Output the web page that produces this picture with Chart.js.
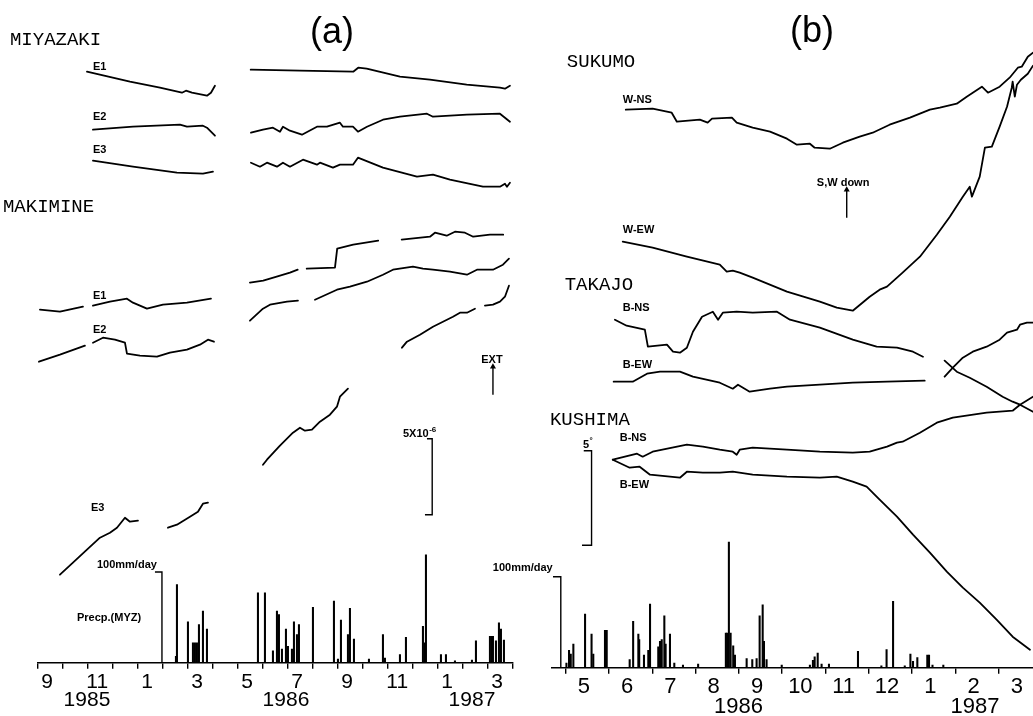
<!DOCTYPE html>
<html>
<head>
<meta charset="utf-8">
<title>Strain and tilt records, Miyazaki / Sukumo</title>
<script src="https://cdn.jsdelivr.net/npm/chart.js@4.4.1/dist/chart.umd.min.js"></script>
<style>
  html, body { margin: 0; padding: 0; background: #fff; }
  #wrap { position: relative; width: 1033px; height: 716px; overflow: hidden; background: #fff; }
  canvas { position: absolute; top: 0; }
  #chartA { left: 0; }
  #chartB { left: 480px; }
</style>
</head>
<body>
<div id="wrap">
  <canvas id="chartA" width="520" height="716"></canvas>
  <canvas id="chartB" width="553" height="716"></canvas>
</div>
<script>
// time axis: months counted from Jan 1985 (8 = Sep 1985, 16 = May 1986)
// level: relative trace level (the 5x10^-6 strain bar is 7.6 units), null = break in record

// ---- panel (a): extensometers ----
const miyazakiE1 = [[9.97,59.1],[11.69,58.1],[12.89,57.5],[13.77,57.0],[13.93,57.2],[14.17,57.0],[14.77,56.7],[14.93,57.0],[15.09,57.7],null,
  [16.52,59.3],[18.49,59.2],[20.62,59.1],[20.82,59.5],[21.16,59.4],[22.49,58.6],[23.69,58.3],[25.16,57.8],[26.49,57.5],[26.69,57.4],[26.89,57.7]];
const miyazakiE2 = [[10.21,53.3],[11.81,53.6],[13.69,53.8],[13.97,53.6],[14.61,53.7],[14.77,53.5],[15.09,52.7],null,
  [16.53,53.0],[17.01,53.3],[17.41,53.5],[17.69,53.1],[17.81,53.6],[18.09,53.2],[18.57,52.8],[19.17,53.6],[19.57,53.6],[20.09,54.0],[20.21,53.6],
  [20.61,53.6],[20.81,53.1],[21.17,53.6],[21.81,54.3],[22.49,54.6],[23.57,54.9],[23.81,54.6],[25.17,54.8],[26.49,54.9],[26.89,54.1]];
const miyazakiE3 = [[10.21,50.2],[11.81,49.6],[13.57,49.0],[14.61,48.9],[15.01,49.1],null,
  [16.53,50.0],[16.89,49.6],[17.17,50.0],[17.57,49.6],[17.81,50.0],[18.09,49.6],[18.61,50.3],[19.17,49.8],[19.29,50.0],[19.81,49.5],[20.09,49.8],
  [20.61,49.8],[20.81,50.5],[21.81,49.5],[23.17,48.6],[23.81,48.8],[24.49,48.3],[25.81,47.6],[26.49,47.6],[26.69,47.9],[26.77,47.6],[26.89,48.0]];
const makimineE1 = [[8.09,35.3],[8.89,35.1],[9.81,35.6],null,
  [10.21,35.7],[10.89,36.1],[11.57,36.4],[11.81,36.0],[12.37,35.4],[13.01,35.8],[13.97,36.0],[14.93,36.4],null,
  [16.49,38.0],[17.02,38.2],[17.56,38.6],[18.09,39.0],[18.40,39.3],null,
  [18.76,39.4],[19.89,39.5],[19.98,41.4],[20.62,41.8],[21.62,42.2],null,
  [22.56,42.3],[23.69,42.6],[23.89,43.0],[24.36,42.7],[24.69,43.1],[25.09,43.0],[25.42,42.6],[26.09,42.8],[26.62,42.8]];
const makimineE2 = [[8.05,30.1],[8.89,30.8],[9.89,31.7],null,
  [10.21,32.0],[10.61,32.5],[11.09,32.3],[11.49,32.0],[11.57,30.9],[12.09,30.7],[12.77,30.6],[13.29,31.0],[13.97,31.3],[14.49,31.8],[14.81,32.3],[15.05,32.1],null,
  [16.49,34.2],[17.01,35.4],[17.29,35.8],[17.97,36.1],[18.41,36.2],null,
  [19.09,36.3],[19.97,37.3],[20.49,37.6],[21.17,38.1],[21.81,38.8],[22.21,39.3],[23.01,39.6],[23.41,39.4],[23.81,39.3],[24.49,39.1],
  [25.17,38.8],[25.57,39.3],[26.21,39.3],[26.61,39.8],[26.85,40.4]];
const makimineE3 = [[8.89,8.8],[9.41,10.0],[9.97,11.3],[10.49,12.5],[10.89,13.0],[11.17,13.5],[11.49,14.5],[11.69,14.1],[12.01,14.2],null,
  [13.21,13.5],[13.57,13.8],[14.09,14.6],[14.41,15.1],[14.61,15.9],[14.81,16.0],null,
  [17.01,19.8],[17.17,20.3],[17.69,21.7],[18.21,23.0],[18.49,23.5],[18.69,23.2],[18.97,23.3],[19.29,24.1],[19.69,24.8],[19.97,25.6],[20.09,26.6],[20.41,27.4],null,
  [22.57,31.5],[22.77,32.1],[23.29,32.8],[23.81,33.6],[24.37,34.3],[24.61,34.6],[24.89,35.0],[25.17,35.0],[25.49,35.4],null,
  [25.89,35.7],[26.21,35.8],[26.49,36.1],[26.69,36.6],[26.85,37.7]];

// daily precipitation at Miyazaki (mm/day)
const rainTimeA = [13.53,13.57,14.01,14.21,14.29,14.37,14.45,14.61,14.77,16.81,17.09,17.41,17.57,17.65,17.77,17.93,18.01,18.17,18.25,18.37,18.45,
  19.01,19.85,20.01,20.13,20.41,20.49,20.65,21.25,21.81,21.89,22.49,22.73,23.41,23.49,23.53,24.13,24.33,24.69,25.37,25.53,
  26.09,26.17,26.21,26.33,26.45,26.53,26.65];
const rainMmA = [7,86,45,22,22,22,42,57,37,77,77,13,57,53,15,37,18,15,45,31,42,
  61,68,4,47,31,60,26,4,31,5,9,28,40,22,119,9,9,2,3,24,
  29,29,29,24,44,37,25];

// ---- panel (b): tiltmeters ----
const sukumoWNS = [[17.39,55.8],[18.01,55.9],[18.45,55.5],[18.57,54.6],[19.10,54.8],[19.28,54.5],[19.38,54.9],[19.84,55.0],[19.95,54.5],[20.32,54.0],
  [20.72,53.6],[21.11,52.9],[21.34,52.3],[21.64,52.4],[21.75,52.0],[22.10,51.9],[22.40,52.5],[22.79,53.1],[23.09,53.5],[23.48,54.3],[23.95,55.0],
  [24.41,55.8],[24.64,56.0],[25.03,56.4],[25.26,57.1],[25.40,57.5],[25.61,58.1],[25.75,57.5],[26.02,58.1],[26.25,59.0],[26.44,60.0],[26.53,60.1],
  [26.67,61.1],[26.79,61.5]];
const sukumoWEW = [[17.32,42.6],[18.01,42.0],[18.80,41.1],[19.56,40.3],[19.72,39.6],[19.86,39.7],[20.02,39.5],[20.32,39.0],[21.11,37.6],[21.87,36.6],
  [22.26,36.0],[22.63,35.7],[23.02,37.1],[23.25,37.8],[23.42,38.1],[23.78,39.5],[24.18,41.1],[24.57,43.3],[24.87,45.1],[25.17,47.1],[25.33,48.1],
  [25.38,47.1],[25.56,49.1],[25.68,52.0],[25.84,52.1],[26.02,54.1],[26.19,56.1],[26.30,58.0],[26.32,58.6],[26.37,57.1],[26.42,58.3],[26.51,58.8],
  [26.67,59.4],[26.79,60.2]];
const takajoBNS = [[17.14,34.8],[17.41,34.2],[17.83,33.8],[17.90,32.1],[18.34,32.3],[18.48,31.6],[18.64,31.5],[18.80,32.0],[18.94,33.6],[19.15,35.1],
  [19.40,35.6],[19.52,34.8],[19.63,35.5],[19.95,35.6],[20.32,35.5],[20.88,35.6],[21.18,34.8],[21.87,34.0],[22.63,32.8],[23.18,32.1],[23.65,32.0],
  [24.02,31.6],[24.25,31.1],null,
  [24.75,30.7],[25.03,29.6],[25.33,29.0],[25.72,28.1],[26.09,27.1],[26.32,26.6],[26.49,26.3],[26.79,25.6]];
const takajoBEW = [[17.11,28.6],[17.55,28.6],[17.88,29.4],[18.18,29.6],[18.64,29.6],[18.94,29.1],[19.56,28.5],[19.86,27.9],[19.98,28.3],[20.25,27.6],
  [20.72,27.9],[21.11,28.1],[21.87,28.3],[22.63,28.5],[23.42,28.6],[24.29,28.7],null,
  [24.75,29.1],[24.94,30.0],[25.17,31.0],[25.40,31.6],[25.72,32.1],[26.02,32.8],[26.19,33.5],[26.42,33.8],[26.49,34.3],[26.65,34.5],[26.79,34.5]];
const kushimaBNS = [[17.09,20.8],[17.65,21.4],[17.78,21.1],[18.01,21.6],[18.80,22.3],[19.17,22.1],[19.56,21.8],[19.86,21.6],[19.95,21.3],[20.02,21.8],
  [20.32,22.0],[21.11,21.8],[21.87,21.6],[22.63,21.5],[23.02,21.6],[23.42,22.1],[23.65,22.5],[23.78,22.6],[24.18,23.5],[24.57,24.5],[24.94,25.0],
  [25.72,25.5],[26.32,25.7],[26.49,26.3],[26.79,27.1]];
const kushimaBEW = [[17.09,20.8],[17.48,20.0],[17.71,20.1],[17.95,19.3],[18.41,19.1],[18.64,19.0],[18.80,19.6],[19.17,19.5],[19.56,19.5],[19.86,19.6],
  [20.32,19.3],[21.11,19.1],[21.87,19.0],[22.26,19.1],[22.63,18.6],[22.95,18.1],[23.25,16.8],[23.65,15.1],[24.02,13.3],[24.41,11.5],[24.80,9.6],
  [25.17,8.0],[25.56,6.5],[25.95,4.8],[26.32,3.1],[26.72,1.8]];

const rainTimeB = [16.02,16.08,16.12,16.18,16.45,16.60,16.64,16.91,16.95,17.48,17.56,17.68,17.70,17.81,17.91,17.95,
  18.14,18.18,18.22,18.28,18.31,18.41,18.51,18.71,19.06,19.70,19.73,19.77,19.81,19.87,19.91,
  20.18,20.31,20.41,20.48,20.55,20.58,20.64,20.99,21.64,21.71,21.75,21.82,21.91,22.08,22.75,
  23.29,23.41,23.56,23.83,23.96,24.02,24.12,24.35,24.39,24.47,24.72];
const rainMmB = [5,19,15,26,59,37,15,41,41,9,51,37,31,14,19,70,
  23,29,31,57,26,37,5,3,4,38,38,138,38,24,14,
  10,9,10,57,69,29,9,3,3,8,12,16,4,4,18,
  2,20,73,2,15,7,11,14,14,3,3];

// scale bars and arrows
const strainBarA = [[23.57,22.4],[23.78,22.4],[23.78,14.8],[23.49,14.8]];
const rainBarA = [[12.69,100],[12.97,100],[12.97,0]];
const extArrowA = [[26.21,26.8],[26.21,29.6]];
const tiltBarB = [[16.42,21.7],[16.60,21.7],[16.60,12.25],[16.38,12.25]];
const rainBarB = [[15.71,100],[15.89,100],[15.89,0]];
const downArrowB = [[22.49,45.0],[22.49,47.8]];

// axis labels
const monthTicksA = [8,9,10,11,12,13,14,15,16,17,18,19,20,21,22,23,24,25,26,27];
const monthLabelAtA = [8,10,12,14,16,18,20,22,24,26];
const monthLabelsA = ['9','11','1','3','5','7','9','11','1','3'];
const yearAtA = [9.97,17.93,25.37];
const yearLabelsA = ['1985','1986','1987'];

const monthTicksB = [16,17,18,19,20,21,22,23,24,25,26];
const monthLabelAtB = [16,17,18,19,20,21,22,23,24,25,26];
const monthLabelsB = ['5','6','7','8','9','10','11','12','1','2','3'];
const yearAtB = [19.99,25.45];
const yearLabelsB = ['1986','1987'];

const SANS = "'Liberation Sans', Arial, sans-serif";
const MONO = "'Liberation Mono', 'DejaVu Sans Mono', monospace";

const notesA = [
  {text: '(a)', t: 18.89, v: 63.0, kind: 'title'},
  {text: 'MIYAZAKI', t: 6.89, v: 62.3, kind: 'station'},
  {text: 'E1', t: 10.21, v: 59.6, kind: 'tag'},
  {text: 'E2', t: 10.21, v: 54.6, kind: 'tag'},
  {text: 'E3', t: 10.21, v: 51.3, kind: 'tag'},
  {text: 'MAKIMINE', t: 6.61, v: 45.6, kind: 'station'},
  {text: 'E1', t: 10.21, v: 36.7, kind: 'tag'},
  {text: 'E2', t: 10.21, v: 33.3, kind: 'tag'},
  {text: 'E3', t: 10.13, v: 15.5, kind: 'tag'},
  {text: 'EXT', t: 26.17, v: 30.3, kind: 'tag', align: 'center'},
  {text: '5X10', sup: '-6', t: 22.61, v: 22.9, kind: 'tag'},
  {text: '100mm/day', t: 10.37, v: 9.8, kind: 'tag'},
  {text: 'Precp.(MYZ)', t: 9.57, v: 4.5, kind: 'tag'}
];
const notesB = [
  {text: '(b)', t: 21.18, v: 63.6, kind: 'title'},
  {text: 'SUKUMO', t: 16.03, v: 60.6, kind: 'station'},
  {text: 'W-NS', t: 17.32, v: 56.8, kind: 'tag'},
  {text: 'S,W down', t: 21.80, v: 48.5, kind: 'tag'},
  {text: 'W-EW', t: 17.32, v: 43.8, kind: 'tag'},
  {text: 'TAKAJO', t: 15.98, v: 38.3, kind: 'station'},
  {text: 'B-NS', t: 17.32, v: 36.0, kind: 'tag'},
  {text: 'B-EW', t: 17.32, v: 30.3, kind: 'tag'},
  {text: 'KUSHIMA', t: 15.64, v: 24.8, kind: 'station'},
  {text: 'B-NS', t: 17.25, v: 23.0, kind: 'tag'},
  {text: '5', sup: '°', t: 16.40, v: 22.3, kind: 'tag'},
  {text: 'B-EW', t: 17.25, v: 18.3, kind: 'tag'},
  {text: '100mm/day', t: 14.32, v: 10.0, kind: 'tag'}
];

const FONTS = {
  title: {size: 36, weight: '', family: SANS},
  station: {size: 19, weight: '', family: MONO},
  tag: {size: 11, weight: 'bold ', family: SANS}
};

function toPoints(rows) {
  return rows.map((p, i) => p ? {x: p[0], y: p[1]} : {x: rows[i - 1][0], y: null});
}

function trace(rows) {
  return {
    type: 'line', data: toPoints(rows), yAxisID: 'y',
    borderColor: '#000', borderWidth: 1.8, borderJoinStyle: 'round', borderCapStyle: 'round',
    pointRadius: 0, tension: 0, spanGaps: false
  };
}

function marker(rows, axis, arrow) {
  return {
    type: 'line', data: toPoints(rows), yAxisID: axis,
    borderColor: '#000', borderWidth: 1.4, tension: 0,
    pointStyle: 'triangle', pointBackgroundColor: '#000', pointBorderWidth: 0,
    pointRadius: rows.map((p, i) => (arrow && i === rows.length - 1) ? 3.5 : 0)
  };
}

function rain(times, mm) {
  return {
    type: 'bar', data: times.map((t, i) => ({x: t, y: mm[i]})), yAxisID: 'yP',
    backgroundColor: '#000', borderWidth: 0, barThickness: 1.4
  };
}

function notesPlugin(items) {
  return {
    id: 'notes',
    afterDatasetsDraw(chart) {
      const ctx = chart.ctx;
      const xs = chart.scales.x, ys = chart.scales.y;
      ctx.save();
      ctx.fillStyle = '#000';
      ctx.textBaseline = 'middle';
      for (const n of items) {
        const f = FONTS[n.kind];
        ctx.font = f.weight + f.size + 'px ' + f.family;
        ctx.textAlign = n.align || 'left';
        const px = xs.getPixelForValue(n.t);
        const py = ys.getPixelForValue(n.v);
        ctx.fillText(n.text, px, py);
        if (n.sup) {
          const w = ctx.measureText(n.text).width;
          const sx = n.align === 'center' ? px + w / 2 : px + w;
          ctx.font = f.weight + Math.round(f.size * 0.7) + 'px ' + f.family;
          ctx.textAlign = 'left';
          ctx.fillText(n.sup, sx + 0.5, py - f.size * 0.4);
        }
      }
      ctx.restore();
    }
  };
}

// labels are clipped to their own axis box, so each label row gets a box tall enough for its text
function buildScales(o) {
  const fixHeight = h => s => { s.height = h; };
  const labelAxis = (weight, at, labels, shift, height, pad) => ({
    type: 'linear', min: o.min, max: o.max, position: 'bottom', weight: weight, offset: false,
    afterBuildTicks: s => { s.ticks = at.map(v => ({value: v + shift})); },
    afterFit: fixHeight(height),
    grid: {display: false, drawTicks: false},
    border: {display: false},
    ticks: {
      autoSkip: false, maxRotation: 0, minRotation: 0, padding: pad, color: '#000',
      font: {family: SANS, size: o.labelSize, lineHeight: 1},
      callback: (v, i) => labels[i]
    }
  });
  return {
    x: {
      type: 'linear', min: o.min, max: o.max, position: 'bottom', weight: 1, offset: false,
      afterBuildTicks: s => { s.ticks = o.tickMarks.map(v => ({value: v})); },
      afterFit: fixHeight(6),
      grid: {display: true, drawOnChartArea: false, drawTicks: true, tickLength: 6, color: '#000', lineWidth: 1.4, offset: false},
      border: {display: true, color: '#000', width: 1.6},
      ticks: {display: false}
    },
    xMonth: labelAxis(2, o.monthAt, o.monthLabels, o.shift, o.monthHeight, o.monthPad),
    xYear: labelAxis(3, o.yearAt, o.yearLabels, 0, o.yearHeight, o.yearPad),
    y: {type: 'linear', display: false, min: 0, max: o.yMax},
    yP: {type: 'linear', display: false, min: 0, max: o.rainMax}
  };
}

function makeChart(id, datasets, scales, padding, notes) {
  return new Chart(document.getElementById(id), {
    type: 'line',
    data: {datasets: datasets},
    options: {
      responsive: false,
      animation: false,
      devicePixelRatio: 1,
      events: [],
      layout: {padding: padding, autoPadding: false},
      plugins: {legend: {display: false}, tooltip: {enabled: false}, title: {display: false}},
      scales: scales
    },
    plugins: [notesPlugin(notes)]
  });
}

makeChart('chartA', [
  trace(miyazakiE1), trace(miyazakiE2), trace(miyazakiE3),
  trace(makimineE1), trace(makimineE2), trace(makimineE3),
  marker(strainBarA, 'y', false), marker(extArrowA, 'y', true), marker(rainBarA, 'yP', false),
  rain(rainTimeA, rainMmA)
], buildScales({
  min: 8, max: 27, tickMarks: monthTicksA,
  monthAt: monthLabelAtA, monthLabels: monthLabelsA, shift: 0.38, monthHeight: 21.5, monthPad: 2.8,
  yearAt: yearAtA, yearLabels: yearLabelsA, yearHeight: 25.8, yearPad: -0.7,
  labelSize: 21, yMax: 66.27, rainMax: 730.7
}), {left: 37.7, right: 7.3, top: 0, bottom: 0}, notesA);

makeChart('chartB', [
  trace(sukumoWNS), trace(sukumoWEW),
  trace(takajoBNS), trace(takajoBEW),
  trace(kushimaBNS), trace(kushimaBEW),
  marker(tiltBarB, 'y', false), marker(downArrowB, 'y', true), marker(rainBarB, 'yP', false),
  rain(rainTimeB, rainMmB)
], buildScales({
  min: 15.68, max: 26.79, tickMarks: monthTicksB,
  monthAt: monthLabelAtB, monthLabels: monthLabelsB, shift: 0.42, monthHeight: 22, monthPad: 2.3,
  yearAt: yearAtB, yearLabels: yearLabelsB, yearHeight: 20.3, yearPad: 0.3,
  labelSize: 22, yMax: 66.77, rainMax: 733.7
}), {left: 71.7, right: 0, top: 0, bottom: 0}, notesB);
</script>
</body>
</html>
